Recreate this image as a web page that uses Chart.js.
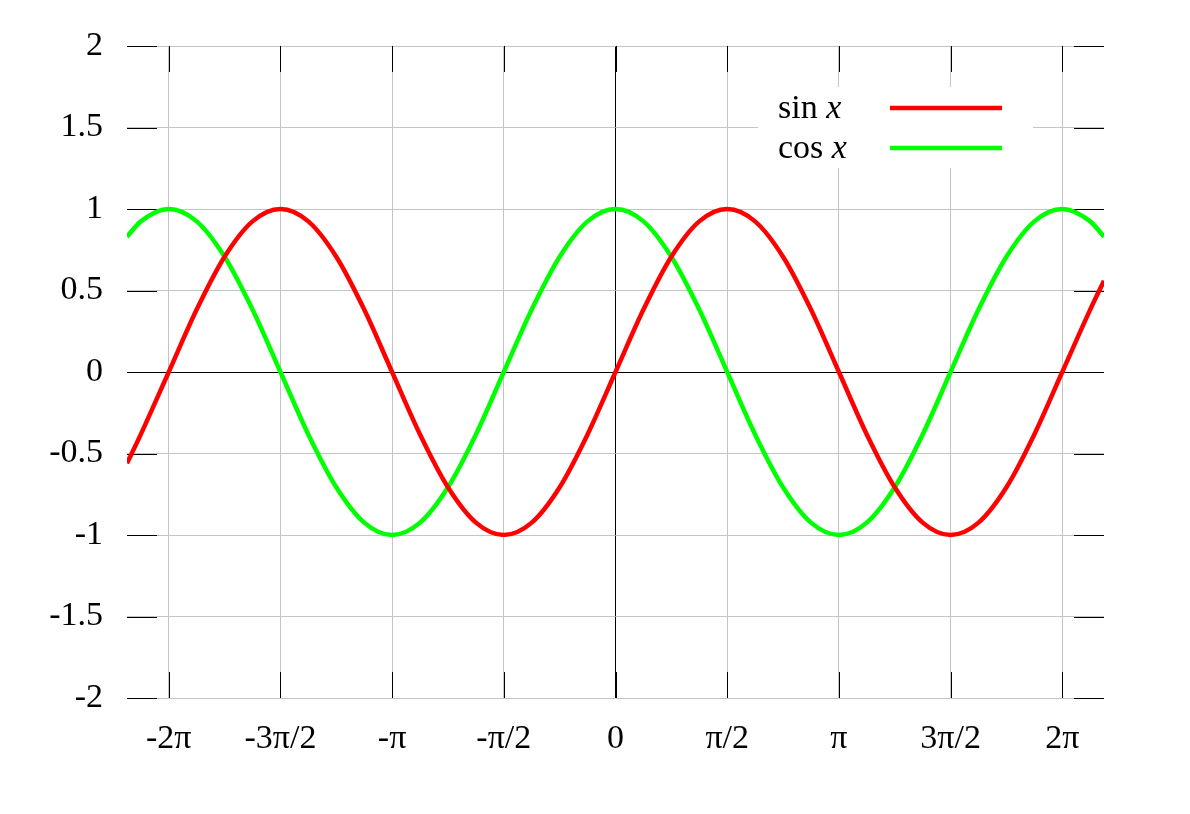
<!DOCTYPE html>
<html>
<head>
<meta charset="utf-8">
<title>sin x, cos x</title>
<script src="https://cdn.jsdelivr.net/npm/chart.js@4/dist/chart.umd.min.js"></script>
<style>
  html, body { margin: 0; padding: 0; background: #fff; }
  #wrap { width: 1190px; height: 814px; position: relative; }
</style>
</head>
<body>
<div id="wrap"><canvas id="grafico"></canvas></div>
<script>
// Datos (x en radianes, paso pi/8 más los extremos)
const xValues = [
  -6.87, -6.676, -6.283, -5.890, -5.498, -5.105, -4.712, -4.320, -3.927, -3.534,
  -3.142, -2.749, -2.356, -1.963, -1.571, -1.178, -0.785, -0.393, 0,
  0.393, 0.785, 1.178, 1.571, 1.963, 2.356, 2.749, 3.142, 3.534, 3.927,
  4.320, 4.712, 5.105, 5.498, 5.890, 6.283, 6.676, 6.87
];
const sinValues = [
  -0.56, -0.383, 0, 0.383, 0.707, 0.924, 1, 0.924, 0.707, 0.383,
  0, -0.383, -0.707, -0.924, -1, -0.924, -0.707, -0.383, 0,
  0.383, 0.707, 0.924, 1, 0.924, 0.707, 0.383, 0, -0.383, -0.707,
  -0.924, -1, -0.924, -0.707, -0.383, 0, 0.383, 0.56
];
const cosValues = [
  0.83, 0.924, 1, 0.924, 0.707, 0.383, 0, -0.383, -0.707, -0.924,
  -1, -0.924, -0.707, -0.383, 0, 0.383, 0.707, 0.924, 1,
  0.924, 0.707, 0.383, 0, -0.383, -0.707, -0.924, -1, -0.924, -0.707,
  -0.383, 0, 0.383, 0.707, 0.924, 1, 0.924, 0.83
];
const xTickValues = [-6.2832, -4.7124, -3.1416, -1.5708, 0, 1.5708, 3.1416, 4.7124, 6.2832];
const xTickLabels = ['-2π', '-3π/2', '-π', '-π/2', '0', 'π/2', 'π', '3π/2', '2π'];
const yTickValues = [-2, -1.5, -1, -0.5, 0, 0.5, 1, 1.5, 2];
const seriesNames = ['sin', 'cos'];
const seriesColors = ['#ff0000', '#00ff00'];

const FONT = '"Liberation Serif", "Times New Roman", serif';
const FONT_SIZE = 34;

// Marcas de tick hacia dentro en los cuatro bordes
const tickMarks = {
  id: 'tickMarks',
  beforeDatasetsDraw(chart) {
    const { ctx, chartArea: a, scales } = chart;
    ctx.save();
    ctx.strokeStyle = '#000';
    ctx.lineWidth = 1;
    ctx.beginPath();
    xTickValues.forEach(v => {
      const px = Math.round(scales.x.getPixelForValue(v)) + 0.5;
      ctx.moveTo(px, a.top); ctx.lineTo(px, a.top + 26);
      ctx.moveTo(px, a.bottom); ctx.lineTo(px, a.bottom - 26);
    });
    yTickValues.forEach(v => {
      const py = Math.round(scales.y.getPixelForValue(v)) + 0.5;
      ctx.moveTo(a.left, py); ctx.lineTo(a.left + 30, py);
      ctx.moveTo(a.right, py); ctx.lineTo(a.right - 30, py);
    });
    ctx.stroke();
    ctx.restore();
  }
};

// Leyenda estilo gnuplot: texto a la izquierda, muestra de línea a la derecha
const gnuLegend = {
  id: 'gnuLegend',
  afterDatasetsDraw(chart) {
    const { ctx, chartArea: a } = chart;
    const boxLeft = a.right - 346, boxTop = a.top + 41;
    ctx.save();
    ctx.fillStyle = '#fff';
    ctx.fillRect(boxLeft, boxTop, 275, 81);
    seriesNames.forEach((name, i) => {
      const base = a.top + 72 + i * 40;
      ctx.fillStyle = '#000';
      ctx.textBaseline = 'alphabetic';
      ctx.textAlign = 'left';
      ctx.font = FONT_SIZE + 'px ' + FONT;
      const tx = boxLeft + 20;
      ctx.fillText(name + ' ', tx, base);
      const w = ctx.measureText(name + ' ').width;
      ctx.font = 'italic ' + FONT_SIZE + 'px ' + FONT;
      ctx.fillText('x', tx + w, base);
      ctx.strokeStyle = seriesColors[i];
      ctx.lineWidth = 4.5;
      ctx.beginPath();
      ctx.moveTo(boxLeft + 132, base - 10);
      ctx.lineTo(boxLeft + 244, base - 10);
      ctx.stroke();
    });
    ctx.restore();
  }
};

const gridColor = c => (c.tick && c.tick.value === 0) ? '#000' : '#c4c4c4';

new Chart(document.getElementById('grafico'), {
  type: 'line',
  data: {
    datasets: [sinValues, cosValues].map((vals, i) => ({
      label: seriesNames[i] + ' x',
      data: xValues.map((x, j) => ({ x: x, y: vals[j] })),
      borderColor: seriesColors[i],
      borderWidth: 4.5,
      pointRadius: 0,
      fill: false,
      cubicInterpolationMode: 'monotone'
    }))
  },
  options: {
    responsive: true,
    maintainAspectRatio: false,
    animation: false,
    events: [],
    layout: { padding: { top: 46, right: 86, bottom: 0, left: 0 } },
    plugins: { legend: { display: false }, tooltip: { enabled: false } },
    scales: {
      x: {
        type: 'linear',
        min: -6.87,
        max: 6.87,
        afterBuildTicks: scale => { scale.ticks = xTickValues.map(v => ({ value: v })); },
        afterFit: scale => { scale.height = 116; },
        border: { display: false },
        grid: { color: gridColor, lineWidth: 1, drawTicks: false },
        ticks: {
          padding: 21,
          maxRotation: 0,
          autoSkip: false,
          color: '#000',
          font: { family: FONT, size: FONT_SIZE },
          callback: (v, i) => xTickLabels[i]
        }
      },
      y: {
        min: -2,
        max: 2,
        afterBuildTicks: scale => { scale.ticks = yTickValues.map(v => ({ value: v })); },
        afterFit: scale => { scale.width = 127; },
        border: { display: false },
        grid: { color: gridColor, lineWidth: 1, drawTicks: false },
        ticks: {
          padding: 24,
          color: '#000',
          font: { family: FONT, size: FONT_SIZE },
          callback: v => String(v)
        }
      }
    }
  },
  plugins: [tickMarks, gnuLegend]
});
</script>
</body>
</html>
